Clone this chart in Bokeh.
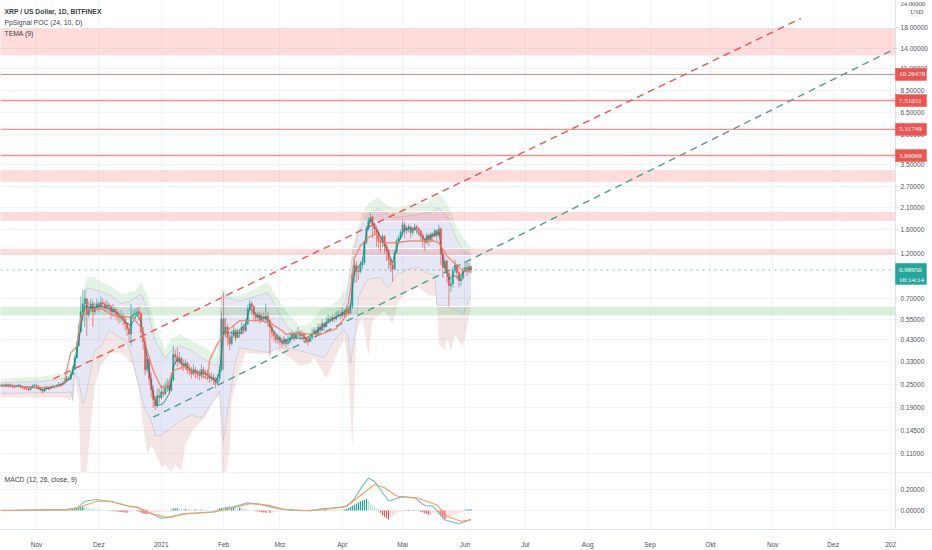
from bokeh.plotting import figure
from bokeh.layouts import column
from bokeh.models import FixedTicker, NumeralTickFormatter, Label, Span
from bokeh.embed import file_html
from bokeh.resources import INLINE
import math

UP, DOWN = "#26a69a", "#ef5350"
TXT = "#50535e"
GRID = "#f0f3fa"
EDGE = "#e0e3eb"
FONT = "Liberation Sans"

month_days = [14, 45, 76, 107, 135, 166, 196, 227, 257, 288, 319, 349, 380, 410, 438.6]
month_labels = ["Nov", "Dez", "2021", "Feb", "Mrz", "Apr", "Mai", "Jun", "Jul", "Aug", "Sep", "Okt", "Nov", "Dez", "202"]
price_ticks = [18, 14, 11, 8.5, 6.5, 5, 3.5, 2.7, 2.1, 1.6, 1.2, 0.7, 0.55, 0.43, 0.33, 0.25, 0.19, 0.145, 0.11]

close = [
 .250,.247,.249,.251,
 .248,.250,.246,.244,.247,.249,.245,.243,.240,.239,
 .236,.241,.247,.249,.246,.243,.236,.232,.238,.242,
 .239,.243,.246,.244,.248,.252,.250,.256,.262,.270,
 .268,.282,.300,.345,.40,.47,.60,.66,.70,.58,
 .62,.66,.60,.63,.66,.64,.67,.66,.63,.65,
 .64,.60,.62,.60,.58,.56,.57,.55,.52,.49,
 .46,.57,.58,.59,.60,.585,.47,.42,.30,.34,
 .27,.235,.21,.195,.22,.215,.23,.225,.24,.25,
 .235,.265,.36,.35,.33,.345,.32,.315,.325,.30,
 .295,.285,.30,.29,.285,.28,.30,.29,.285,.28,
 .27,.275,.265,.255,.27,.30,.55,.46,.50,.44,
 .41,.45,.48,.44,.47,.46,.50,.48,.52,.62,
 .66,.64,.58,.56,.58,.54,.56,.55,.57,.54,
 .50,.47,.45,.43,.44,.42,.41,.43,.41,.42,
 .44,.46,.44,.46,.47,.45,.46,.44,.43,.42,
 .44,.46,.48,.46,.50,.48,.52,.50,.53,.55,
 .54,.56,.55,.57,.58,.57,.60,.58,.62,.59,
 .64,.93,1.05,.98,.97,1.05,1.08,1.38,1.62,1.78,
 1.86,1.72,1.62,1.55,1.40,1.38,1.48,1.32,1.25,1.12,
 1.05,1.00,1.22,1.40,1.45,1.55,1.70,1.58,1.62,1.66,
 1.55,1.60,1.66,1.62,1.58,1.50,1.42,1.38,1.50,1.42,
 1.52,1.48,1.58,1.50,1.62,1.20,1.02,1.10,.95,.82,
 .84,.98,1.05,.96,.87,.90,.98,1.02,1.00,1.03,.9895]
high = [
 .254,.252,.253,.255,
 .252,.254,.251,.250,.250,.253,.251,.247,.245,.243,
 .242,.244,.252,.254,.251,.248,.244,.238,.242,.247,
 .244,.247,.251,.249,.253,.258,.256,.262,.270,.278,
 .276,.292,.315,.36,.42,.52,.72,.78,.78,.71,
 .68,.70,.69,.67,.70,.68,.72,.70,.68,.69,
 .67,.65,.66,.64,.62,.60,.61,.59,.57,.53,
 .51,.66,.61,.62,.63,.64,.60,.50,.44,.38,
 .35,.29,.25,.22,.24,.24,.25,.25,.26,.27,
 .26,.29,.40,.38,.39,.37,.35,.34,.34,.33,
 .32,.31,.32,.31,.30,.30,.32,.31,.30,.30,
 .29,.29,.285,.275,.285,.32,.60,.76,.56,.52,
 .46,.48,.51,.49,.49,.49,.53,.52,.55,.65,
 .69,.68,.65,.60,.60,.60,.59,.60,.66,.60,
 .55,.52,.48,.46,.46,.45,.44,.45,.44,.45,
 .47,.48,.47,.48,.50,.48,.48,.47,.45,.45,
 .46,.49,.50,.49,.52,.52,.55,.53,.56,.58,
 .57,.58,.58,.60,.61,.60,.63,.62,.65,.63,
 .67,.97,1.12,1.10,1.03,1.10,1.15,1.42,1.68,1.85,
 1.95,1.90,1.75,1.68,1.60,1.50,1.52,1.50,1.35,1.28,
 1.15,1.08,1.26,1.44,1.50,1.60,1.78,1.76,1.68,1.72,
 1.68,1.65,1.72,1.70,1.65,1.60,1.54,1.46,1.54,1.52,
 1.56,1.56,1.62,1.60,1.70,1.64,1.25,1.16,1.12,.98,
 .90,1.02,1.12,1.06,.98,.95,1.02,1.10,1.08,1.08,1.04]
low = [
 .245,.243,.245,.247,
 .242,.245,.241,.239,.243,.244,.240,.237,.236,.235,
 .232,.234,.240,.244,.241,.237,.232,.226,.230,.236,
 .234,.238,.241,.239,.243,.247,.245,.250,.255,.260,
 .262,.266,.282,.30,.345,.40,.47,.55,.50,.45,
 .56,.60,.50,.58,.62,.60,.62,.62,.60,.61,
 .60,.55,.58,.56,.54,.52,.53,.51,.48,.45,
 .42,.40,.55,.56,.57,.54,.44,.38,.28,.29,
 .25,.215,.19,.185,.19,.20,.21,.215,.22,.23,
 .225,.23,.26,.32,.31,.32,.30,.295,.30,.285,
 .28,.27,.28,.27,.27,.265,.27,.27,.27,.265,
 .255,.26,.25,.24,.25,.26,.29,.30,.44,.40,
 .38,.40,.44,.42,.44,.44,.46,.46,.47,.51,
 .60,.58,.54,.53,.54,.52,.53,.53,.52,.50,
 .355,.44,.42,.41,.41,.40,.39,.40,.39,.40,
 .41,.43,.42,.43,.44,.43,.43,.42,.41,.40,
 .42,.43,.46,.44,.45,.46,.48,.48,.50,.52,
 .52,.53,.53,.54,.56,.55,.56,.56,.58,.57,
 .58,.62,.85,.85,.88,.95,1.00,1.05,1.35,1.58,
 1.72,1.45,1.50,1.30,1.28,1.22,1.30,1.20,1.10,1.00,
 .96,.86,.98,1.20,1.35,1.42,1.50,1.45,1.52,1.55,
 1.45,1.50,1.58,1.52,1.48,1.40,1.30,1.25,1.35,1.32,
 1.38,1.40,1.46,1.40,1.48,1.05,.90,.98,.85,.64,
 .76,.80,.95,.88,.80,.82,.88,.96,.92,.95,.95]

outer_up_x = [-4,0,6,16,23,28,31,33,35,37,39,42,46,51,56,58,61,63,66,69,71,73,76,78,81,85,91,96,100,103,104,106,110,115,120,125,129,133,138,140,145,150,155,160,165,168,170,171,174,176,179,184,187,192,201,208,212,215,220,223,227,230]
outer_up_y = [.270,.270,.273,.276,.283,.287,.29,.335,.54,.73,.91,.91,.86,.82,.745,.745,.77,.77,.86,.73,.61,.505,.425,.377,.435,.46,.425,.40,.377,.343,.377,.79,.73,.73,.77,.82,.86,.73,.61,.575,.505,.525,.61,.645,.71,.80,.98,1.32,1.68,1.97,2.19,2.38,2.19,2.06,2.19,2.21,2.46,2.44,2.03,1.64,1.41,1.32]
inner_up_x = [-4,0,16,28,31,33,36,39,46,51,56,61,66,69,73,78,81,85,91,96,103,105,106,113,116,129,138,146,151,156,163,168,171,174,179,184,191,201,210,214,218,223,227,230]
inner_up_y = [.257,.257,.26,.27,.28,.335,.48,.80,.765,.73,.66,.686,.745,.624,.425,.343,.377,.40,.377,.347,.315,.335,.73,.686,.686,.755,.51,.425,.425,.51,.595,.686,1.17,1.55,1.94,2.06,1.85,1.9,1.97,2.08,1.9,1.41,1.22,1.19]
inner_lo_x = [-4,0,16,28,31,32,33,35,37,38,41,43,46,50,53,58,60,63,66,68,71,73,76,81,86,91,96,102,105,107,109,113,115,123,130,133,140,145,157,163,167,169,170,173,174,178,180,185,189,193,199,204,208,212,213,218,223,226,228,230]
inner_lo_y = [.226,.226,.228,.228,.23,.207,.29,.263,.2,.207,.297,.377,.395,.48,.457,.425,.395,.297,.22,.185,.164,.136,.136,.15,.164,.174,.168,.207,.233,.128,.185,.335,.39,.377,.368,.39,.386,.377,.347,.44,.48,.44,.323,.50,.71,.87,.89,.90,.80,.93,1.0,1.02,.95,.93,.645,.645,.61,.575,.66,.73]
outer_lo_x = [-4,0,16,28,31,33,35,36,39,41,43,46,51,56,59,62,65,67,69,71,73,76,78,81,83,86,88,91,96,98,102,105,106,108,110,111,115,118,126,133,140,145,150,152,158,162,167,169,171,173,176,179,181,183,187,191,194,199,204,209,213,214,217,218,220,222,226,230]
outer_lo_y = [.215,.215,.215,.215,.207,.28,.207,.088,.088,.154,.248,.315,.368,.368,.343,.315,.233,.154,.11,.121,.112,.094,.0956,.088,.0956,.09,.121,.141,.164,.17,.207,.22,.088,.088,.114,.207,.297,.368,.36,.377,.347,.315,.323,.347,.27,.335,.44,.31,.117,.475,.56,.354,.54,.56,.61,.52,.686,.77,.80,.73,.73,.41,.377,.44,.377,.455,.396,.63]

poc_x = [-4,0,6,16,26,28,29,31,34,36,38,46,52,62,66,69,72,76,79,82,87,99,100,104,109,115,125,130,136,138,142,155,163,168,170,172,175,179,183,184,187,192,200,211,214,218,223,226,230]
poc_y = [.247,.247,.245,.242,.247,.254,.297,.368,.395,.56,.61,.624,.574,.56,.497,.377,.297,.242,.247,.297,.31,.27,.335,.41,.48,.54,.54,.527,.48,.457,.465,.457,.49,.574,.77,1.14,1.32,1.46,1.53,1.39,1.37,1.37,1.40,1.40,1.37,1.17,1.04,.98,.97]
tema_x = [-4,0,6,12,17,22,27,31,34,36,38,41,46,51,55,58,61,64,66,68,70,72,74,77,80,82,84,87,92,98,103,105,107,109,113,118,120,124,128,131,136,142,148,154,160,166,170,172,176,178,180,183,187,191,194,197,202,207,212,214,216,219,221,224,227,230]
tema_y = [.249,.247,.246,.243,.237,.243,.252,.272,.36,.50,.64,.63,.64,.62,.58,.53,.51,.58,.53,.40,.30,.225,.195,.20,.225,.31,.34,.32,.295,.285,.262,.29,.47,.47,.46,.52,.63,.57,.56,.49,.42,.44,.435,.48,.54,.585,.64,.96,1.10,1.55,1.82,1.6,1.35,1.08,1.38,1.62,1.62,1.42,1.52,1.55,1.12,.88,.93,.90,.98,1.0]

zone_top = [18.0, 3.29, 1.99, 1.28, 0.64]
zone_bottom = [12.8, 2.82, 1.77, 1.175, 0.57]
zone_color = ["#ff5252", "#ff5252", "#ff5252", "#ff5252", "#4caf50"]
level_prices = [10.26478, 7.51051, 5.31749, 3.89068]
level_texts = ["10.26478", "7.51051", "5.31749", "3.89068"]
level_colors = ["#b58f8f", "#f4908a", "#f4908a", "#f4908a"]
level_widths = [1, 1.4, 1.4, 1.4]
last_price = 0.9895

red_line_x = [22.4, 394]
red_line_y = [.269, 20.05]
green_line_x = [72, 441]
green_line_y = [.17, 14.0]

macd_x = [-4,0,29,34,38,44,52,61,64,69,76,81,86,96,103,107,112,119,125,134,142,150,155,165,168,172,176,179,182,189,196,202,207,211,217,224,230]
macd_y = [.003,.003,.012,.021,.088,.106,.082,.036,.033,-.009,-.073,-.067,-.033,-.021,-.012,.021,.036,.073,.061,.018,0,-.003,.015,.03,.042,.112,.233,.309,.279,.091,.133,.121,.048,.042,-.091,-.127,-.085]
signal_x = [-4,0,29,36,44,51,59,64,71,79,89,102,109,120,129,137,150,162,168,176,182,187,193,197,203,213,218,225,230]
signal_y = [0,0,.006,.036,.088,.088,.045,.03,-.03,-.064,-.03,-.015,.012,.064,.052,.012,-.003,.024,.036,.158,.248,.218,.139,.127,.121,.052,-.055,-.103,-.09]
hist = [
 .001,-.001,.001,-.001,
 .001,.001,-.001,-.001,.001,.001,-.001,-.001,.001,.001,
 -.001,-.001,.001,.001,-.001,-.001,.001,.002,.002,.001,
 .002,.002,.002,.003,.003,.002,.003,.004,.005,.006,
 .008,.010,.014,.018,.024,.030,.034,.036,.030,.026,
 .022,.020,.018,.016,.012,.010,.008,.005,.003,.001,
 -.002,-.004,-.006,-.008,-.010,-.012,-.014,-.016,-.019,-.022,
 -.020,-.014,-.008,-.004,-.006,-.012,-.020,-.028,-.034,-.036,
 -.030,-.026,-.022,-.020,-.018,-.016,-.014,-.012,-.010,-.006,
 -.002,.008,.018,.020,.021,.018,.016,.014,.015,.014,
 .012,.011,.010,.010,.009,.008,.008,.007,.006,.005,
 .003,.002,.002,.004,.010,.018,.025,.024,.026,.028,
 .026,.027,.030,.027,.025,.028,.027,.022,.015,.008,
 .003,.001,-.002,-.006,-.010,-.013,-.016,-.018,-.022,-.020,
 -.022,-.020,-.018,-.014,-.012,-.010,-.008,-.006,-.005,-.004,
 -.003,-.003,-.002,-.002,-.001,-.001,.001,.002,.003,.004,
 .006,.008,.010,.010,.011,.013,.012,.012,.013,.012,
 .011,.010,.009,.008,.007,.006,.005,.010,.016,.024,
 .034,.045,.055,.066,.076,.086,.096,.100,.110,.095,
 .070,.050,.034,.020,-.005,-.022,-.045,-.060,-.075,-.085,
 -.070,-.055,-.040,-.028,-.018,-.010,-.005,.002,.004,.006,
 .002,.003,.004,.002,-.005,-.012,-.020,-.026,-.034,-.040,
 -.034,-.026,-.020,-.018,-.030,-.055,-.075,-.090,-.080,-.060,
 -.055,-.048,-.040,-.034,-.026,-.018,-.010,.006,.012,.012,.013]

days = list(range(-4, len(close) - 4))
opens = [close[0]] + close[:-1]
X0, XA, X1 = -3.9, 441.0, 459.4   # left edge, price-axis column, right edge of the page
TICK_PX = "6.6px"

def base(height, bottom, yr, **kw):
    f = figure(width=932, height=height, x_range=(X0, X1), y_range=yr, toolbar_location=None,
               output_backend="svg", y_axis_location="right", min_border_left=0, min_border_top=0,
               min_border_right=0, min_border_bottom=bottom, background_fill_color="white",
               outline_line_color=None, **kw)
    f.xaxis.ticker = FixedTicker(ticks=month_days)
    f.xgrid.ticker = FixedTicker(ticks=month_days)
    f.xgrid.grid_line_color = GRID
    f.ygrid.grid_line_color = GRID
    for a in f.yaxis:
        a.fixed_location = XA
        a.axis_line_color = EDGE
        a.major_tick_line_color = EDGE
        a.major_tick_out = 3
        a.major_tick_in = 0
        a.minor_tick_line_color = None
        a.major_label_standoff = 2
        a.major_label_text_color = TXT
        a.major_label_text_font = FONT
        a.major_label_text_font_size = TICK_PX
        a.formatter = NumeralTickFormatter(format="0.00000")
    return f

# ---------- price pane
p = base(472, 0, (0.0877, 24.86), y_axis_type="log")
p.xaxis.visible = False
p.yaxis.ticker = FixedTicker(ticks=price_ticks)
p.ygrid.ticker = FixedTicker(ticks=price_ticks)

def band(xa, ya, xb, yb, color, alpha):
    p.patch(xa + xb[::-1], ya + yb[::-1], fill_color=color, fill_alpha=alpha, line_color=None)

band(outer_up_x, outer_up_y, inner_up_x, inner_up_y, "#4caf50", 0.15)
band(inner_up_x, inner_up_y, inner_lo_x, inner_lo_y, "#3f47ad", 0.13)
band(inner_lo_x, inner_lo_y, outer_lo_x, outer_lo_y, "#b23b3b", 0.13)
p.line(inner_up_x, inner_up_y, line_color="#8a8a92", line_alpha=0.25, line_width=1)
p.line(inner_lo_x, inner_lo_y, line_color="#8a8a92", line_alpha=0.25, line_width=1)

n = len(zone_top)
p.quad(left=[X0 - 2] * n, right=[XA] * n, top=zone_top, bottom=zone_bottom,
       fill_color=zone_color, fill_alpha=0.2, line_color="white", line_width=1)

n = len(level_prices)
p.segment([X0] * n, level_prices, [XA] * n, level_prices, line_color=level_colors, line_width=level_widths)
p.line([X0, XA], [last_price, last_price], line_color=UP, line_alpha=0.6, line_width=1, line_dash="dotted")

p.line(red_line_x, red_line_y, line_color=DOWN, line_width=1.4, line_dash=[7, 5])
p.line(green_line_x, green_line_y, line_color="#4f9f8f", line_width=1.4, line_dash=[7, 5])

col_list = [UP if c >= o else DOWN for c, o in zip(close, opens)]
p.segment(days, high, days, low, line_color=col_list, line_width=0.9, line_alpha=0.75)
p.vbar(x=days, top=[max(a, b) for a, b in zip(opens, close)], bottom=[min(a, b) for a, b in zip(opens, close)],
       width=0.72, fill_color=col_list, line_color=col_list, line_width=0.4)
p.line(tema_x, tema_y, line_color="#1c7d6e", line_width=1, line_alpha=0.8)
p.line(poc_x, poc_y, line_color="#f47c5f", line_width=1.4, line_alpha=0.85)

# blank price-axis column over the grid
p.quad(left=[XA], right=[X1], top=[24.86], bottom=[0.0877], fill_color="white", line_color=None)

def flag(left, right, top, bottom, color, line=None):
    p.quad(left=[left], right=[right], top=[top], bottom=[bottom], fill_color=color,
           line_color=line or color, line_width=0.5, level="overlay")

def side(text, x, y, color=TXT, size=TICK_PX):
    p.text(x=[x], y=[y], text=[text], text_font=FONT, text_font_size=size, text_color=color,
           text_baseline="middle", level="overlay")

def txt(fig, text, y, **kw):
    fig.add_layout(Label(x=4, y=y, x_units="screen", y_units="data", text=text, text_font=FONT,
                         text_font_size="6.8px", text_color="#3c3f4a", text_baseline="middle", **kw))

txt(p, "XRP / US Dollar, 1D, BITFINEX", 21.8, text_font_style="bold")
txt(p, "PpSignal POC (24, 10, D)", 19.1)
txt(p, "TEMA (9)", 16.8)

side("24.00000", 443.5, 23.7)
flag(447.5, 453.4, 23.0, 20.66, "white", EDGE)
side("USD", 448.3, 21.8)
PX = math.exp(6.0 / 83.57)
for v, t in zip(level_prices, level_texts):
    flag(XA, 456.4, v * PX, v / PX, DOWN)
    side(t, 442.8, v, "white", "7px")
flag(XA, 456.4, 1.07, 0.832, UP)
side("0.98950", 442.8, last_price, "white", "7px")
side("16:14:14", 442.8, 0.882, "white", "7px")

# ---------- MACD pane
m = base(78, 18, (-0.1818, 0.3636))
m.yaxis.ticker = FixedTicker(ticks=[0.0, 0.2])
m.ygrid.ticker = FixedTicker(ticks=[0.0, 0.2])
m.xaxis.axis_line_color = EDGE
m.xaxis.major_tick_line_color = None
m.xaxis.minor_tick_line_color = None
m.xaxis.major_label_standoff = 5
m.xaxis.major_label_text_color = TXT
m.xaxis.major_label_text_font = FONT
m.xaxis.major_label_text_font_size = TICK_PX
m.xaxis.major_label_overrides = dict(zip(month_days, month_labels))
m.add_layout(Span(location=0.3636, dimension="width", line_color=EDGE, line_width=1))

hc = []
for i, v in enumerate(hist):
    prev = hist[i - 1] if i else v
    if v >= 0:
        hc.append("#26a69a" if v >= prev else "#b2dfdb")
    else:
        hc.append("#ef5350" if v <= prev else "#ffcdd2")
m.vbar(x=days, top=hist, bottom=0, width=0.6, fill_color=hc, line_color=None)
m.line(macd_x, macd_y, line_color="#6fc4bc", line_width=1.1)
m.line(signal_x, signal_y, line_color="#ff9a5c", line_width=1.1)
m.quad(left=[XA], right=[X1], top=[0.3636], bottom=[-0.1818], fill_color="white", line_color=None)
txt(m, "MACD (12, 26, close, 9)", 0.30)

open("out.html", "w").write(file_html(column(p, m, spacing=0), INLINE))
